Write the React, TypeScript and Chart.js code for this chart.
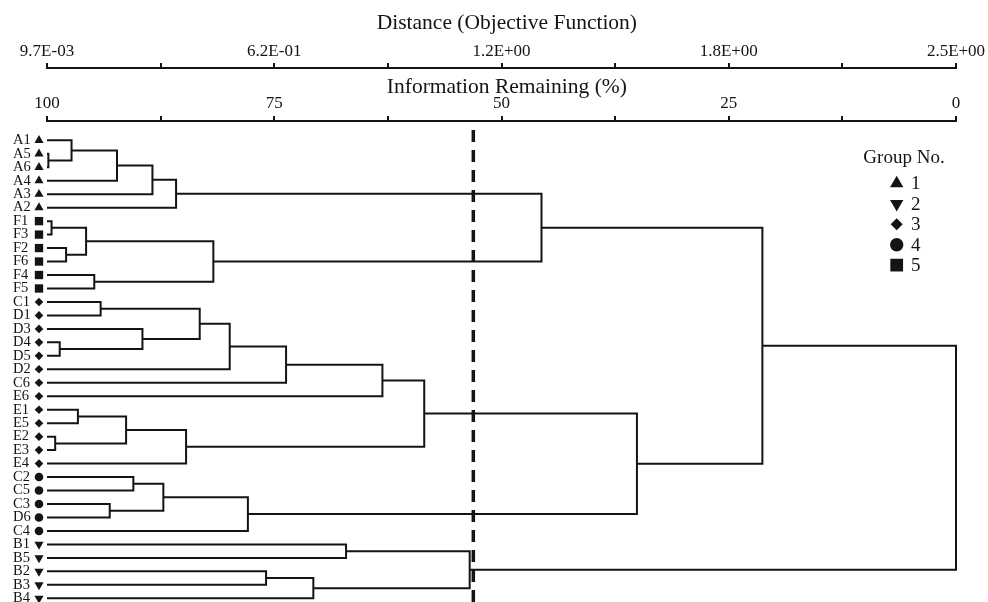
import React, { useEffect, useRef } from 'react';
import { Chart, registerables } from 'chart.js';
import { drawPoint } from 'chart.js/helpers';

Chart.register(...registerables);

const SERIF = "'Liberation Serif', 'Times New Roman', Times, serif";
const INK = '#141414';

// Leaves (top to bottom) and their group numbers
const LEAVES = ['A1', 'A5', 'A6', 'A4', 'A3', 'A2', 'F1', 'F3', 'F2', 'F6', 'F4', 'F5',
  'C1', 'D1', 'D3', 'D4', 'D5', 'D2', 'C6', 'E6', 'E1', 'E5', 'E2', 'E3', 'E4',
  'C2', 'C5', 'C3', 'D6', 'C4', 'B1', 'B5', 'B2', 'B3', 'B4'];
const LEAF_GROUPS = [1, 1, 1, 1, 1, 1, 5, 5, 5, 5, 5, 5,
  3, 3, 3, 3, 3, 3, 3, 3, 3, 3, 3, 3, 3,
  4, 4, 4, 4, 4, 2, 2, 2, 2, 2];

// Merges: [child A, child B, information remaining (%) at fusion]; merge k is named "m"+k
const MERGES: [string, string, number][] = [
  ['A5', 'A6', 99.85], // m0
  ['A1', 'm0', 97.3],  // m1
  ['m1', 'A4', 92.3],  // m2
  ['m2', 'A3', 88.4],  // m3
  ['m3', 'A2', 85.8],  // m4
  ['F1', 'F3', 99.5],  // m5
  ['F2', 'F6', 97.9],  // m6
  ['m5', 'm6', 95.7],  // m7
  ['F4', 'F5', 94.8],  // m8
  ['m7', 'm8', 81.7],  // m9
  ['m4', 'm9', 45.6],  // m10
  ['C1', 'D1', 94.1],  // m11
  ['D4', 'D5', 98.6],  // m12
  ['D3', 'm12', 89.5], // m13
  ['m11', 'm13', 83.2], // m14
  ['m14', 'D2', 79.9], // m15
  ['m15', 'C6', 73.7], // m16
  ['m16', 'E6', 63.1], // m17
  ['E1', 'E5', 96.6],  // m18
  ['E2', 'E3', 99.1],  // m19
  ['m18', 'm19', 91.3], // m20
  ['m20', 'E4', 84.7], // m21
  ['m17', 'm21', 58.5], // m22
  ['C2', 'C5', 90.5],  // m23
  ['C3', 'D6', 93.1],  // m24
  ['m23', 'm24', 87.2], // m25
  ['m25', 'C4', 77.9], // m26
  ['m22', 'm26', 35.1], // m27
  ['m10', 'm27', 21.3], // m28
  ['B1', 'B5', 67.1],  // m29
  ['B2', 'B3', 75.9],  // m30
  ['m30', 'B4', 70.7], // m31
  ['m29', 'm31', 53.5], // m32
  ['m28', 'm32', 0],   // m33
];

const CUT_LEVEL = 53.1;

const MAJOR_TICKS = [100, 75, 50, 25, 0];
const MINOR_TICKS = [87.5, 62.5, 37.5, 12.5];
const INFO_LABELS = ['100', '75', '50', '25', '0'];
const DIST_LABELS = ['9.7E-03', '6.2E-01', '1.2E+00', '1.8E+00', '2.5E+00'];

const GROUP_IDS = [1, 2, 3, 4, 5];
const LEGEND_TITLE = 'Group No.';

const GROUP_STYLE: Record<number, { pointStyle: any; rotation: number; leafR: number; legR: number }> = {
  1: { pointStyle: 'triangle', rotation: 0, leafR: 5.3, legR: 7.7 },
  2: { pointStyle: 'triangle', rotation: 180, leafR: 5.3, legR: 7.7 },
  3: { pointStyle: 'rectRot', rotation: 0, leafR: 4.3, legR: 6.0 },
  4: { pointStyle: 'circle', rotation: 0, leafR: 4.3, legR: 6.7 },
  5: { pointStyle: 'rect', rotation: 0, leafR: 5.9, legR: 9.0 },
};

function buildSegments() {
  const ny: Record<string, number> = {};
  const nh: Record<string, number> = {};
  LEAVES.forEach((n, i) => { ny[n] = i; nh[n] = 100; });
  const segs: { x: number; y: number }[][] = [];
  MERGES.forEach(([a, b, h], k) => {
    const id = 'm' + k;
    ny[id] = (ny[a] + ny[b]) / 2;
    nh[id] = h;
    segs.push([
      { x: nh[a], y: ny[a] },
      { x: h, y: ny[a] },
      { x: h, y: ny[b] },
      { x: nh[b], y: ny[b] },
    ]);
  });
  return segs;
}

const Y_MIN = -1.433;
const Y_MAX = 34.275;
const CUT_TOP = -0.77;

const decorPlugin = {
  id: 'decor',
  afterDatasetsDraw(chart: any) {
    const ctx = chart.ctx;
    const ys = chart.scales.y;
    const { left, right, top } = chart.chartArea;
    ctx.save();
    ctx.fillStyle = INK;
    ctx.strokeStyle = INK;
    // leaf markers
    LEAF_GROUPS.forEach((g, i) => {
      const st = GROUP_STYLE[g];
      drawPoint(ctx, { pointStyle: st.pointStyle, rotation: st.rotation, radius: st.leafR, borderWidth: 0 } as any,
        left - 8, ys.getPixelForValue(i));
    });
    // legend
    const cx = right - 52;
    ctx.font = `19px ${SERIF}`;
    ctx.textAlign = 'center';
    ctx.textBaseline = 'middle';
    ctx.fillText(LEGEND_TITLE, cx, top + 37);
    GROUP_IDS.forEach((g, k) => {
      const st = GROUP_STYLE[g];
      const yy = top + 62.5 + k * 20.4;
      drawPoint(ctx, { pointStyle: st.pointStyle, rotation: st.rotation, radius: st.legR, borderWidth: 0 } as any,
        cx - 7.3, yy);
      ctx.font = `19px ${SERIF}`;
      ctx.textAlign = 'left';
      ctx.fillText(String(g), cx + 7, yy + 1);
    });
    ctx.restore();
  },
};

function topAxis(labels: string[], title: string, weight: number, height: number, titlePad: number, tickPad: number) {
  return {
    type: 'linear',
    axis: 'x',
    position: 'top',
    reverse: true,
    min: 0,
    max: 100,
    weight,
    afterBuildTicks: (s: any) => {
      s.ticks = [...MAJOR_TICKS, ...MINOR_TICKS].sort((a, b) => b - a).map((v) => ({ value: v }));
    },
    afterFit: (s: any) => {
      s.height = height;
      s.paddingLeft = 0;
      s.paddingRight = 0;
    },
    ticks: {
      autoSkip: false,
      maxRotation: 0,
      minRotation: 0,
      padding: tickPad,
      color: INK,
      font: { family: SERIF, size: 17 },
      callback: (v: number) => {
        const i = MAJOR_TICKS.indexOf(v);
        return i >= 0 ? labels[i] : '';
      },
    },
    grid: { drawOnChartArea: false, drawTicks: true, tickLength: 5, color: INK, lineWidth: 2 },
    border: { display: true, color: INK, width: 2 },
    title: {
      display: true,
      text: '\u2002' + title,
      color: INK,
      font: { family: SERIF, size: 21.5 },
      padding: { top: titlePad, bottom: 0 },
    },
  };
}

export default function App() {
  const ref = useRef<HTMLCanvasElement | null>(null);
  useEffect(() => {
    if (!ref.current) return;
    const segs = buildSegments();
    const datasets: any[] = [
      {
        label: 'cut',
        data: [{ x: CUT_LEVEL, y: CUT_TOP }, { x: CUT_LEVEL, y: Y_MAX }],
        showLine: true,
        borderColor: INK,
        borderWidth: 3.5,
        borderDash: [12, 8],
        pointRadius: 0,
        clip: false,
        order: 0,
      },
      ...segs.map((s, k) => ({
        label: 'm' + k,
        data: s,
        showLine: true,
        borderColor: INK,
        borderWidth: 2,
        borderJoinStyle: 'miter',
        borderCapStyle: 'butt',
        pointRadius: 0,
        clip: false,
        order: 1,
      })),
    ];
    const chart = new Chart(ref.current, {
      type: 'scatter',
      data: { datasets },
      options: {
        animation: false,
        responsive: false,
        events: [],
        layout: { padding: { left: 13, right: 32, top: 0, bottom: 0 } },
        plugins: { legend: { display: false }, tooltip: { enabled: false }, title: { display: false } },
        scales: {
          x: topAxis(INFO_LABELS, 'Information Remaining (%)', 1, 53, 6.5, 2) as any,
          x2: topAxis(DIST_LABELS, 'Distance (Objective Function)', 2, 68, 10, 1) as any,
          y: {
            type: 'linear',
            position: 'left',
            reverse: true,
            min: Y_MIN,
            max: Y_MAX,
            afterBuildTicks: (s: any) => { s.ticks = LEAVES.map((_, i) => ({ value: i })); },
            afterFit: (s: any) => { s.width = 34; s.paddingTop = 0; s.paddingBottom = 0; },
            ticks: {
              autoSkip: false,
              crossAlign: 'far',
              padding: 0,
              color: INK,
              font: { family: SERIF, size: 14.5 },
              callback: (_v: any, i: number) => LEAVES[i],
            },
            grid: { display: false },
            border: { display: false },
          } as any,
        },
      },
      plugins: [decorPlugin],
    });
    return () => chart.destroy();
  }, []);
  return (
    <div style={{ position: 'fixed', left: 0, top: 0, width: 988, height: 602, background: '#fff' }}>
      <canvas ref={ref} width={988} height={602} style={{ display: 'block' }} />
    </div>
  );
}
